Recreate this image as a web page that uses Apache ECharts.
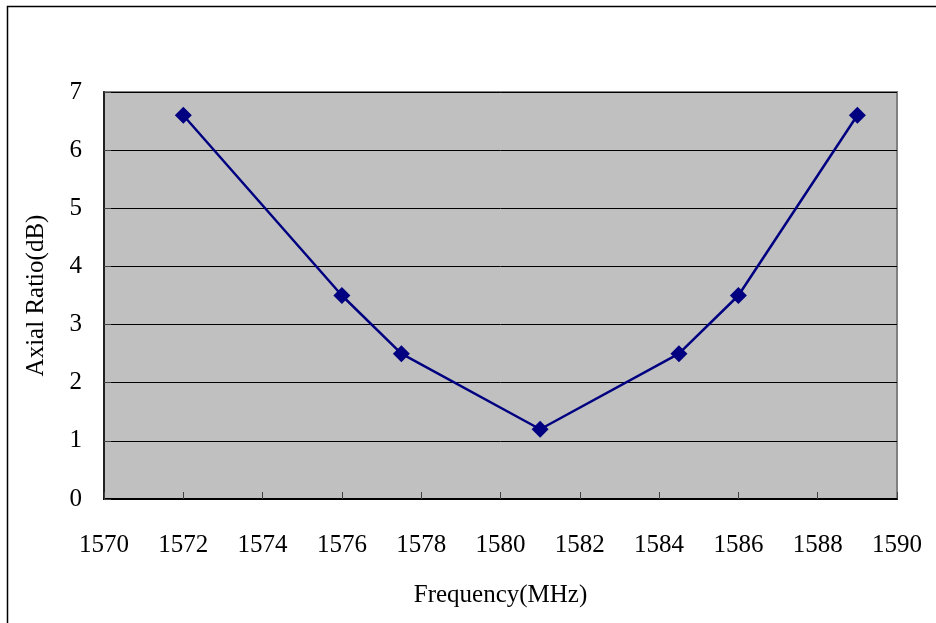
<!DOCTYPE html>
<html><head><meta charset="utf-8">
<script src="https://cdn.jsdelivr.net/npm/echarts@6/dist/echarts.min.js"></script>
<style>html,body{margin:0;padding:0;background:#fff}#c{width:936px;height:623px}</style>
</head><body><div id="c"></div>
<script>
const freqs = [1572, 1576, 1577.5, 1581, 1584.5, 1586, 1589];
const axialRatio = [6.6, 3.5, 2.5, 1.2, 2.5, 3.5, 6.6];
const xName = 'Frequency(MHz)';
const yName = 'Axial Ratio(dB)';
const font = '"Liberation Serif", "DejaVu Serif", serif';
const chart = echarts.init(document.getElementById('c'), null, {renderer: 'canvas'});
chart.setOption({
  animation: false,
  backgroundColor: '#fff',
  graphic: [{
    type: 'rect', shape: {x: 7.5, y: 6.5, width: 960, height: 660},
    style: {fill: 'none', stroke: '#000', lineWidth: 1.5}, silent: true, z: -10
  }],
  grid: {left: 104, top: 92, right: 39, bottom: 124, show: true,
    backgroundColor: '#c0c0c0', borderColor: '#808080', borderWidth: 2},
  xAxis: {
    type: 'value', min: 1570, max: 1590, interval: 2,
    name: xName, nameLocation: 'middle', nameGap: 84,
    nameTextStyle: {fontFamily: font, fontSize: 25, color: '#000'},
    axisLine: {show: true, lineStyle: {color: '#000', width: 2}},
    axisTick: {show: true, inside: true, length: 7, lineStyle: {color: '#404040', width: 1}},
    axisLabel: {fontFamily: font, fontSize: 25, color: '#000', margin: 34,
      formatter: v => String(v)},
    splitLine: {show: false}
  },
  yAxis: {
    type: 'value', min: 0, max: 7, interval: 1,
    name: yName, nameLocation: 'middle', nameGap: 55,
    nameTextStyle: {fontFamily: font, fontSize: 25, color: '#000'},
    axisLine: {show: true, lineStyle: {color: '#202020', width: 2}},
    axisTick: {show: true, inside: true, length: 7, lineStyle: {color: '#404040', width: 1}},
    axisLabel: {fontFamily: font, fontSize: 25, color: '#000', margin: 22},
    splitLine: {show: true, lineStyle: {color: '#000', width: 1}}
  },
  series: [{
    type: 'line',
    data: freqs.map((f, i) => [f, axialRatio[i]]),
    symbol: 'diamond', symbolSize: 17,
    lineStyle: {color: '#000080', width: 2.5},
    itemStyle: {color: '#000080'}
  }]
});
</script></body></html>
